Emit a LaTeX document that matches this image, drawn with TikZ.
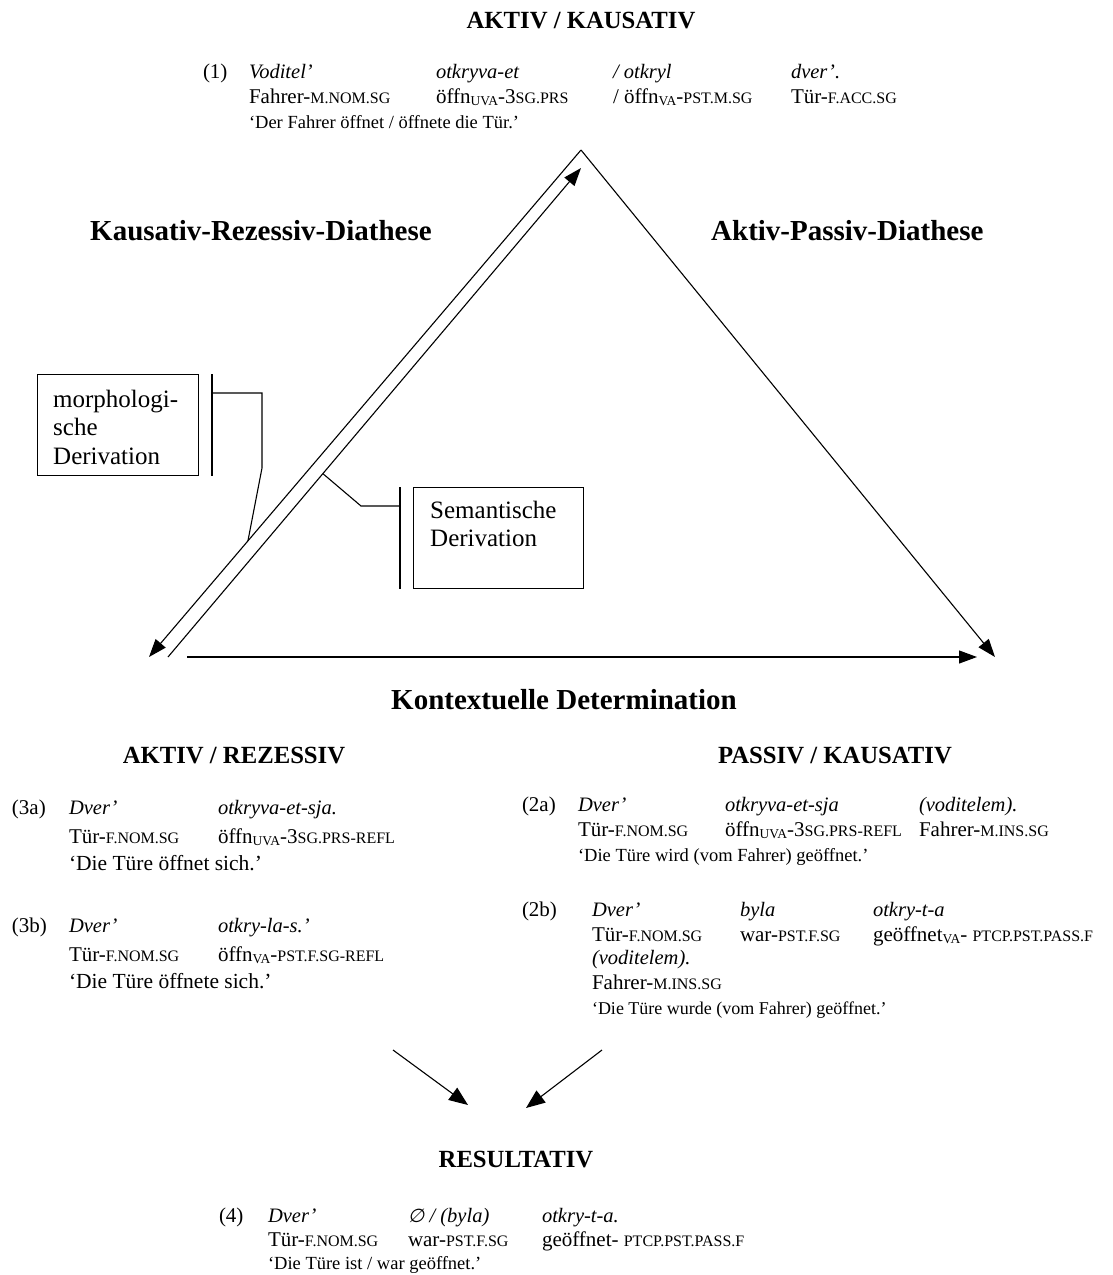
\documentclass[tikz,border=0pt]{standalone}
\usepackage{fontspec}
\setmainfont{Liberation Serif}
\newfontfamily\symfont[FakeSlant=0.2,Scale=0.92]{DejaVu Sans}
\usetikzlibrary{arrows.meta,calc}
\newcommand{\gsc}[1]{{\fontsize{16}{16}\selectfont #1}}
\newcommand{\gsb}[1]{\raisebox{-0.3ex}{\fontsize{13.5}{13.5}\selectfont #1}}
\tikzset{
  ex/.style={anchor=base west, inner sep=0pt, outer sep=0pt},
  lab/.style={ex, font=\fontsize{21}{24}\selectfont},
  itl/.style={ex, font=\fontsize{20.5}{24}\selectfont\itshape},
  gls/.style={ex, font=\fontsize{21}{24}\selectfont},
  qt/.style={ex, font=\fontsize{#1}{#1}\selectfont},
  qt/.default=18.5,
  hdA/.style={anchor=base, inner sep=0pt, font=\fontsize{29}{34}\selectfont\bfseries},
  hdB/.style={anchor=base, inner sep=0pt, font=\fontsize{24.7}{28}\selectfont\bfseries},
  ln/.style={line width=1.1pt},
  tipA/.style={-{Triangle[length=18pt,width=13pt]}},
  tipB/.style={-{Triangle[length=19pt,width=15pt]}},
  frame/.style={draw, line width=1pt, inner sep=0pt, anchor=north west},
  btxt/.style={anchor=base west, inner sep=0pt, align=left, font=\fontsize{25}{28.5}\selectfont}
}
\begin{document}
\begin{tikzpicture}[x=1pt,y=-1pt]
\useasboundingbox (0,0) rectangle (1112,1275);

% ---- top: AKTIV / KAUSATIV ----
\node[hdB] (tAK) at (581,28) {AKTIV / KAUSATIV};
\node[lab] (e1) at (203,78) {(1)};
\node[itl] (e1a) at (249,78) {Voditel’};
\node[itl] (e1b) at (436,78) {otkryva-et};
\node[itl] (e1c) at (613,78) {/ otkryl};
\node[itl] (e1d) at (791,78) {dver’.};
\node[gls] (g1a) at (249,103) {Fahrer-\gsc{M.NOM.SG}};
\node[gls] (g1b) at (436,103) {öffn\gsb{UVA}-3\gsc{SG.PRS}};
\node[gls] (g1c) at (613,103) {/ öffn\gsb{VA}-\gsc{PST.M.SG}};
\node[gls] (g1d) at (791,103) {Tür-\gsc{F.ACC.SG}};
\node[qt] (q1) at (249,128) {‘Der Fahrer öffnet / öffnete die Tür.’};

% ---- triangle ----
\coordinate (apex) at (581,150);
\coordinate (blTip) at (149,657);
\coordinate (inB) at (168,657);
\coordinate (inT) at (581,168);
\coordinate (hS) at (187,657);
\coordinate (hE) at (977,657);
\coordinate (brTip) at (995,657);

\draw[ln,tipA] (apex) -- (blTip);
\draw[ln,tipA] (inB) -- (inT);
\draw[ln,tipA] (hS) -- (hE);
\draw[ln,tipA] (apex) -- (brTip);

\node[hdA,anchor=base west] (kr) at (90,240) {Kausativ-Rezessiv-Diathese};
\node[hdA,anchor=base west] (ap) at (711,240) {Aktiv-Passiv-Diathese};
\node[hdA] (kd) at (564,709) {Kontextuelle Determination};

% ---- derivation boxes ----
\node[frame, minimum width=161pt, minimum height=101pt] (morph) at (37,374) {};
\node[btxt, text width=140pt] (morphT) at (53,407) {morphologi-\\sche\\Derivation};
\draw[ln] ($(morph.north east)+(13,0)$) -- ($(morph.south east)+(13,0)$);
\coordinate (mHit) at ($(apex)!0.771!(blTip)$);
\draw[ln] ($(morph.north east)+(13,19)$) -- ($(morph.north east)+(63,19)$) -- ($(morph.north east)+(63,94)$) -- (mHit);

\node[frame, minimum width=170pt, minimum height=101pt] (sem) at (413,487) {};
\node[btxt, text width=150pt] (semT) at (430,518) {Semantische\\Derivation};
\draw[ln] ($(sem.north west)+(-13,0)$) -- ($(sem.south west)+(-13,0)$);
\coordinate (sHit) at ($(inB)!0.375!(inT)$);
\draw[ln] ($(sem.north west)+(-13,19)$) -- ($(sem.north west)+(-52,19)$) -- (sHit);

% ---- AKTIV / REZESSIV ----
\node[hdB] (tAR) at (234,763) {AKTIV / REZESSIV};
\node[lab] (e3a) at (12,814) {(3a)};
\node[itl] (e3aa) at (69,814) {Dver’};
\node[itl] (e3ab) at (218,814) {otkryva-et-sja.};
\node[gls] (g3aa) at (69,843) {Tür-\gsc{F.NOM.SG}};
\node[gls] (g3ab) at (218,843) {öffn\gsb{UVA}-3\gsc{SG.PRS-REFL}};
\node[qt=21.5] (q3a) at (69,870) {‘Die Türe öffnet sich.’};

\node[lab] (e3b) at (12,932) {(3b)};
\node[itl] (e3ba) at (69,932) {Dver’};
\node[itl] (e3bb) at (218,932) {otkry-la-s.’};
\node[gls] (g3ba) at (69,961) {Tür-\gsc{F.NOM.SG}};
\node[gls] (g3bb) at (218,961) {öffn\gsb{VA}-\gsc{PST.F.SG-REFL}};
\node[qt=21.5] (q3b) at (69,988) {‘Die Türe öffnete sich.’};

% ---- PASSIV / KAUSATIV ----
\node[hdB] (tPK) at (835,763) {PASSIV / KAUSATIV};
\node[lab] (e2a) at (522,811) {(2a)};
\node[itl] (e2aa) at (578,811) {Dver’};
\node[itl] (e2ab) at (725,811) {otkryva-et-sja};
\node[itl] (e2ac) at (919,811) {(voditelem).};
\node[gls] (g2aa) at (578,836) {Tür-\gsc{F.NOM.SG}};
\node[gls] (g2ab) at (725,836) {öffn\gsb{UVA}-3\gsc{SG.PRS-REFL}};
\node[gls] (g2ac) at (919,836) {Fahrer-\gsc{M.INS.SG}};
\node[qt] (q2a) at (578,861) {‘Die Türe wird (vom Fahrer) geöffnet.’};

\node[lab] (e2b) at (522,916) {(2b)};
\node[itl] (e2ba) at (592,916) {Dver’};
\node[itl] (e2bb) at (740,916) {byla};
\node[itl] (e2bc) at (873,916) {otkry-t-a};
\node[gls] (g2ba) at (592,941) {Tür-\gsc{F.NOM.SG}};
\node[gls] (g2bb) at (740,941) {war-\gsc{PST.F.SG}};
\node[gls] (g2bc) at (873,941) {geöffnet\gsb{VA}- \gsc{PTCP.PST.PASS.F}};
\node[itl] (e2bd) at (592,964) {(voditelem).};
\node[gls] (g2bd) at (592,989) {Fahrer-\gsc{M.INS.SG}};
\node[qt=18] (q2b) at (592,1014) {‘Die Türe wurde (vom Fahrer) geöffnet.’};

% ---- RESULTATIV ----
\coordinate (la) at (393,1050);
\coordinate (ra) at (602,1050);
\node[hdB] (tRes) at (516,1167) {RESULTATIV};
\coordinate (laE) at (468,1105);
\coordinate (raE) at (526,1108);
\draw[ln,tipB] (la) -- (laE);
\draw[ln,tipB] (ra) -- (raE);

\node[lab] (e4) at (219,1222) {(4)};
\node[itl] (e4a) at (268,1222) {Dver’};
\node[itl] (e4b) at (408,1222) {{\symfont\upshape ∅} / (byla)};
\node[itl] (e4c) at (542,1222) {otkry-t-a.};
\node[gls] (g4a) at (268,1246) {Tür-\gsc{F.NOM.SG}};
\node[gls] (g4b) at (408,1246) {war-\gsc{PST.F.SG}};
\node[gls] (g4c) at (542,1246) {geöffnet- \gsc{PTCP.PST.PASS.F}};
\node[qt] (q4) at (268,1269) {‘Die Türe ist / war geöffnet.’};
\end{tikzpicture}
\end{document}
